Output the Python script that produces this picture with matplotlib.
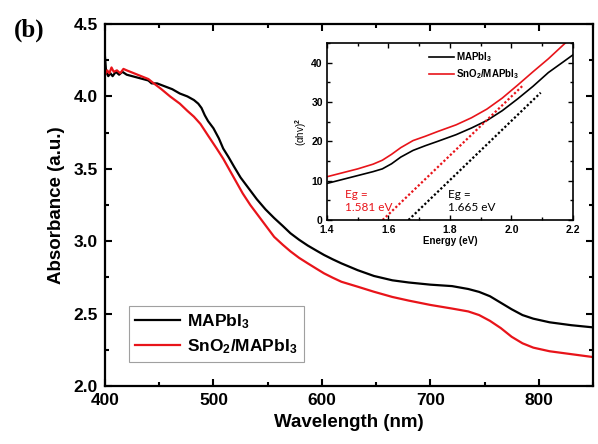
import matplotlib
matplotlib.use("Agg")
import matplotlib.pyplot as plt
from matplotlib.ticker import MultipleLocator

plt.rcParams['font.family'] = ['Liberation Sans', 'DejaVu Sans']
plt.rcParams['font.weight'] = 'bold'
plt.rcParams['mathtext.fontset'] = 'custom'
plt.rcParams['mathtext.rm'] = 'Liberation Sans:bold'
plt.rcParams['mathtext.bf'] = 'Liberation Sans:bold'
plt.rcParams['mathtext.default'] = 'rm'

# main spectra
wl_black = [400, 401, 403, 405, 407, 410, 413, 416, 420, 430, 440, 443, 448, 455, 462, 469,
            476, 482, 486, 489, 492, 495, 500, 505, 509, 514, 519, 525, 531, 540, 548, 556,
            564, 571, 579, 587, 595, 602, 610, 618, 633, 648, 665, 680, 700, 720, 735, 745,
            755, 765, 775, 785, 795, 810, 830, 850]
abs_black = [4.27, 4.17, 4.14, 4.16, 4.14, 4.17, 4.15, 4.17, 4.15, 4.13, 4.11, 4.09, 4.09,
             4.07, 4.05, 4.02, 4.00, 3.975, 3.95, 3.92, 3.87, 3.83, 3.78, 3.71, 3.64, 3.58,
             3.515, 3.44, 3.38, 3.29, 3.22, 3.16, 3.105, 3.055, 3.01, 2.97, 2.935, 2.905,
             2.875, 2.847, 2.80, 2.76, 2.73, 2.715, 2.70, 2.69, 2.67, 2.65, 2.62, 2.575,
             2.53, 2.49, 2.465, 2.44, 2.42, 2.405]
wl_red = [400, 402, 404, 406, 408, 411, 414, 417, 420, 430, 440, 445, 452, 460, 469, 476, 482,
          488, 495, 503, 509, 515, 521, 527, 534, 540, 548, 556, 564, 571, 579, 587, 595, 602,
          610, 618, 633, 648, 665, 680, 700, 720, 735, 745, 755, 765, 775, 785, 795, 810, 830,
          850]
abs_red = [4.15, 4.18, 4.16, 4.20, 4.17, 4.18, 4.16, 4.19, 4.18, 4.15, 4.12, 4.09, 4.05, 4.00,
           3.95, 3.90, 3.86, 3.81, 3.73, 3.64, 3.57, 3.49, 3.41, 3.33, 3.25, 3.19, 3.11, 3.03,
           2.975, 2.93, 2.885, 2.847, 2.81, 2.778, 2.748, 2.72, 2.686, 2.651, 2.615, 2.59,
           2.56, 2.535, 2.515, 2.49, 2.45, 2.40, 2.34, 2.295, 2.265, 2.24, 2.22, 2.20]

# Tauc plot (inset)
e_black = [1.40, 1.45, 1.50, 1.55, 1.58, 1.61, 1.64, 1.68, 1.72, 1.76, 1.82, 1.87, 1.92, 1.97,
           2.02, 2.07, 2.12, 2.17, 2.20]
t_black = [9.3, 10.3, 11.3, 12.3, 13.0, 14.3, 16.0, 17.7, 18.9, 20.0, 21.7, 23.4, 25.3, 27.8,
           30.8, 34.0, 37.5, 40.3, 42.0]
e_red = [1.40, 1.45, 1.50, 1.55, 1.58, 1.61, 1.64, 1.68, 1.72, 1.76, 1.82, 1.87, 1.92, 1.97,
         2.02, 2.07, 2.12, 2.175]
t_red = [11.0, 12.0, 13.0, 14.2, 15.2, 16.7, 18.4, 20.2, 21.3, 22.5, 24.2, 26.0, 28.2, 31.0,
         34.3, 37.7, 41.0, 45.0]

# linear fits: (Eg, end energy, slope)
fit_black = (1.665, 2.095, 75.3)
fit_red = (1.581, 2.04, 75.0)

labels = ['MAPbI$_3$', 'SnO$_2$/MAPbI$_3$']
RED = '#e8141a'

fig = plt.figure(figsize=(5.98, 4.44), dpi=100)
ax = fig.add_axes([0.1756, 0.1306, 0.816, 0.8153])

ax.plot(wl_black, abs_black, color='black', lw=1.6, label=labels[0])
ax.plot(wl_red, abs_red, color=RED, lw=1.6, label=labels[1])
ax.set_xlim(400, 850)
ax.set_ylim(2.0, 4.5)
ax.xaxis.set_major_locator(MultipleLocator(100))
ax.xaxis.set_minor_locator(MultipleLocator(50))
ax.yaxis.set_major_locator(MultipleLocator(0.5))
ax.yaxis.set_minor_locator(MultipleLocator(0.25))
ax.yaxis.set_major_formatter(matplotlib.ticker.FormatStrFormatter('%.1f'))
ax.tick_params(which='both', direction='in', top=True, right=True, width=1.5,
               labelsize=12.5, pad=5)
ax.tick_params(which='major', length=5)
ax.tick_params(which='minor', length=3)
for s in ax.spines.values():
    s.set_linewidth(1.6)
ax.set_xlabel('Wavelength (nm)', fontsize=13.5, fontweight='bold', labelpad=4)
ax.set_ylabel('Absorbance (a.u.)', fontsize=13.5, fontweight='bold', labelpad=6)
leg = ax.legend(loc='lower left', bbox_to_anchor=(0.049, 0.066), borderaxespad=0,
                fontsize=12.5, frameon=True, fancybox=False, edgecolor='#888888',
                handlelength=2.6, handletextpad=0.4, borderpad=0.35, labelspacing=0.35)
leg.get_frame().set_linewidth(0.8)

fig.text(0.024, 0.918, '(b)', fontsize=18, fontweight='bold', family='Liberation Serif')

# inset
ins = fig.add_axes([0.5468, 0.5045, 0.4114, 0.3986])
ins.plot(e_black, t_black, color='black', lw=1.2, label=labels[0])
ins.plot(e_red, t_red, color=RED, lw=1.2, label=labels[1])
for (eg, e_end, k), c in [(fit_black, 'black'), (fit_red, RED)]:
    ins.plot([eg, e_end], [0, k * (e_end - eg)], color=c, lw=1.6, ls=(0, (1, 1)))
ins.set_xlim(1.4, 2.2)
ins.set_ylim(0, 45)
ins.xaxis.set_major_locator(MultipleLocator(0.2))
ins.xaxis.set_minor_locator(MultipleLocator(0.1))
ins.yaxis.set_major_locator(MultipleLocator(10))
ins.yaxis.set_minor_locator(MultipleLocator(5))
ins.tick_params(which='both', direction='in', top=True, right=True, width=1.0,
                labelsize=7.5)
ins.tick_params(axis='x', pad=3.5)
ins.tick_params(axis='y', pad=3)
ins.tick_params(which='major', length=3.5)
ins.tick_params(which='minor', length=2)
for s in ins.spines.values():
    s.set_linewidth(1.2)
ins.set_xlabel('Energy (eV)', fontsize=7, fontweight='bold', labelpad=0.5)
ins.set_ylabel('(αhv)$^2$', fontsize=7, fontweight='normal', labelpad=2)
ins.legend(loc='upper left', bbox_to_anchor=(0.4, 0.98), frameon=False, fontsize=7,
           handlelength=2.5, handletextpad=0.2, labelspacing=0.3, borderaxespad=0)
ins.text(1.458, 2.4, 'Eg =\n1.581 eV', color=RED, fontsize=8.5, family='Lato',
         fontweight='normal', linespacing=1.15)
ins.text(1.795, 2.4, 'Eg =\n1.665 eV', color='black', fontsize=8.5, family='Lato',
         fontweight='normal', linespacing=1.15)

fig.savefig('out.png', dpi=100)
